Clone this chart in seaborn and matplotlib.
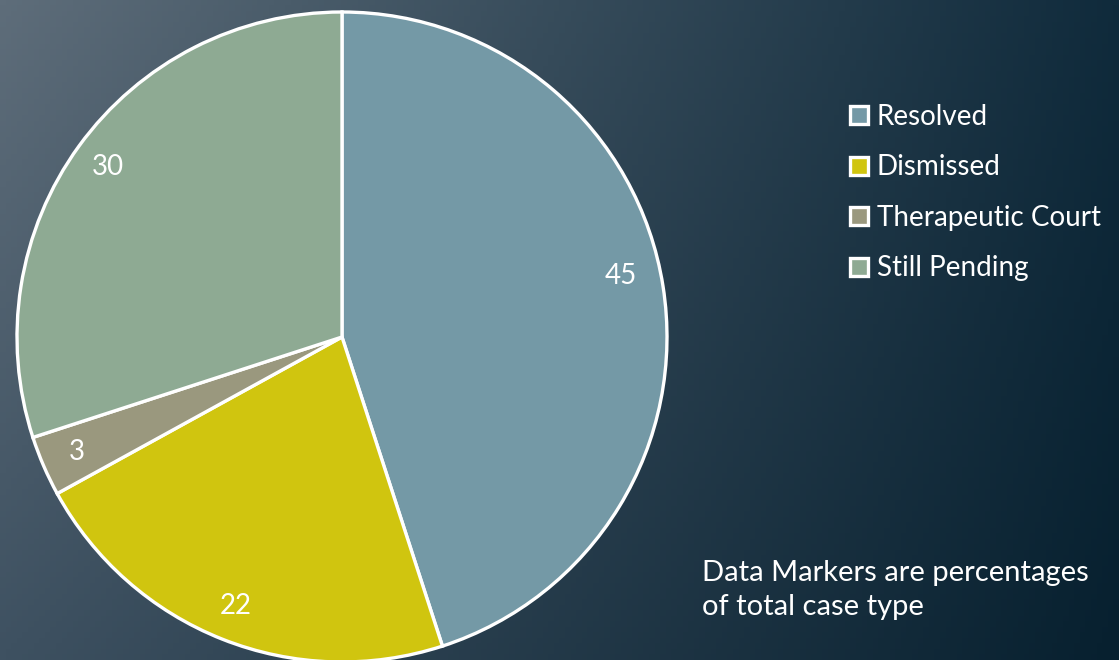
import matplotlib
matplotlib.use("Agg")
import matplotlib.pyplot as plt
import numpy as np
import seaborn as sns
from matplotlib.lines import Line2D

categories = ["Resolved", "Dismissed", "Therapeutic Court", "Still Pending"]
values = [45, 22, 3, 30]
colors = ["#7499a6", "#d0c50f", "#9a987e", "#8eaa93"]
note = "Data Markers are percentages\nof total case type"

sns.set_theme(style="white")
plt.rcParams["font.family"] = ["Lato", "DejaVu Sans"]

W, H = 1119, 660
fig = plt.figure(figsize=(W / 100, H / 100), dpi=100)

# diagonal background gradient
bg = fig.add_axes([0, 0, 1, 1])
bg.set_axis_off()
tl = np.array([0x5e, 0x6d, 0x7a]) / 255
bl = np.array([0x3e, 0x51, 0x61]) / 255
tr = np.array([0x10, 0x2b, 0x3c]) / 255
br = np.array([0x07, 0x20, 0x2f]) / 255
u = np.linspace(0, 1, 200)[None, :, None]
v = np.linspace(0, 1, 120)[:, None, None]
grad = (1 - u) * ((1 - v) * tl + v * bl) + u * ((1 - v) * tr + v * br)
bg.imshow(grad, aspect="auto", extent=[0, 1, 0, 1], origin="upper")

# pie
cx, cy, r = 342, 337, 325
ax = fig.add_axes([(cx - r) / W, (H - cy - r) / H, 2 * r / W, 2 * r / H])
ax.set_axis_off()
wedges, texts = ax.pie(
    values,
    colors=colors,
    startangle=90,
    counterclock=False,
    labels=[str(v) for v in values],
    labeldistance=0.89,
    wedgeprops=dict(edgecolor="white", linewidth=2.4),
    textprops=dict(color="white", fontsize=20, ha="center", va="center"),
)
ax.set_xlim(-1, 1)
ax.set_ylim(-1, 1)
# first label sits a little higher in the original
texts[0].set_position((texts[0].get_position()[0] - 0.02, texts[0].get_position()[1] + 0.05))

handles = [
    Line2D([], [], marker="s", linestyle="none", markersize=13,
           markerfacecolor=c, markeredgecolor="white", markeredgewidth=2.4)
    for c in colors
]
leg = fig.legend(
    handles, categories,
    loc="upper left", bbox_to_anchor=(849 / W, 1 - 104 / H),
    frameon=False, fontsize=20, labelcolor="white",
    handlelength=0.7, handletextpad=0.3, labelspacing=0.88,
    borderaxespad=0, borderpad=0,
)

fig.text(702 / W, 1 - 590 / H, note, color="white", fontsize=21,
         ha="left", va="center", linespacing=1.4)

fig.savefig("out.png", dpi=100)
